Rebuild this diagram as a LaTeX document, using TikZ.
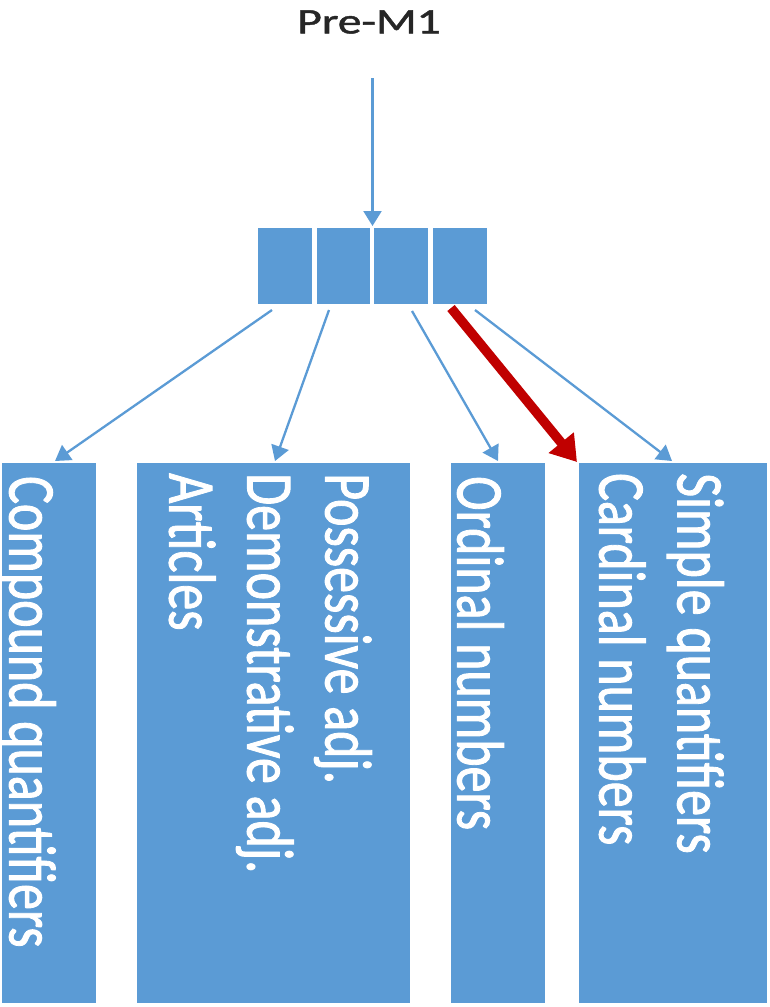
\documentclass[tikz,border=0pt]{standalone}
\usepackage{fontspec}
\setmainfont{Carlito}
\newfontfamily\boxfont{Carlito}[FakeBold=1.6]
\newfontfamily\titlefont{Carlito}[FakeBold=1.2]
\usetikzlibrary{arrows.meta,calc}
\definecolor{boxblue}{HTML}{5B9BD5}
\definecolor{arrred}{HTML}{C00000}
\definecolor{titlegray}{HTML}{262626}
\begin{document}
\begin{tikzpicture}[x=1pt,y=-1pt,
  cell/.style={fill=boxblue,draw=white,line width=4pt,minimum width=58pt,minimum height=80pt,inner sep=0pt,outer sep=0pt},
  bigbox/.style={fill=boxblue,inner sep=0pt,outer sep=0pt,anchor=north west,minimum height=540pt},
  boxtext/.style={text=white,font=\boxfont\fontsize{52}{61}\selectfont,align=left,inner sep=0pt,xscale=1.28,rotate=-90,anchor=north west},
  titletext/.style={text=titlegray,font=\titlefont\fontsize{36}{40}\selectfont,inner sep=0pt,xscale=1.32},
  link/.style={draw=boxblue,line width=2.3pt,-{Triangle[length=15pt,width=18pt]}},
  keylink/.style={draw=arrred,line width=9.5pt,-{Triangle[length=25pt,width=31pt]}}]
\useasboundingbox (0,0) rectangle (770,1007);

\node[titletext] (title) at (369,22) {Pre-M1};

\node[cell] (s1) at (285,266) {};
\node[cell] (s2) at (343.5,266) {};
\node[cell] (s3) at (401,266) {};
\node[cell] (s4) at (459.5,266) {};

\node[bigbox,minimum width=94pt] (b1) at (2,463) {};
\node[bigbox,minimum width=273pt] (b2) at (137,463) {};
\node[bigbox,minimum width=94pt] (b3) at (451,463) {};
\node[bigbox,minimum width=188pt] (b4) at (579,463) {};

\node[boxtext] (t1) at (56,476) {Compound quantifiers};
\node[boxtext] (t2) at (372,473) {Possessive adj.\\Demonstrative adj.\\Articles};
\node[boxtext] (t3) at (504,476) {Ordinal numbers};
\node[boxtext] (t4) at (724,473) {Simple quantifiers\\Cardinal numbers};

\coordinate (src) at (372.5,78);
\draw[link] (src) -- (s2.north east);

\draw[link] ([xshift=-13pt,yshift=-4pt]s1.south) -- ([xshift=6pt,yshift=2pt]b1.north);
\draw[link] ([xshift=-14.5pt,yshift=-4pt]s2.south) -- ([xshift=1.5pt,yshift=2pt]b2.north);
\draw[link] ([xshift=11pt,yshift=-5pt]s3.south) -- ([yshift=2pt]b3.north);
\draw[link] ([xshift=15.5pt,yshift=-4pt]s4.south) -- ([xshift=-1pt,yshift=2pt]b4.north);
\draw[keylink] ([xshift=-8.5pt,yshift=-2pt]s4.south) -- ([xshift=-2pt,yshift=1pt]b4.north west);
\end{tikzpicture}
\end{document}
